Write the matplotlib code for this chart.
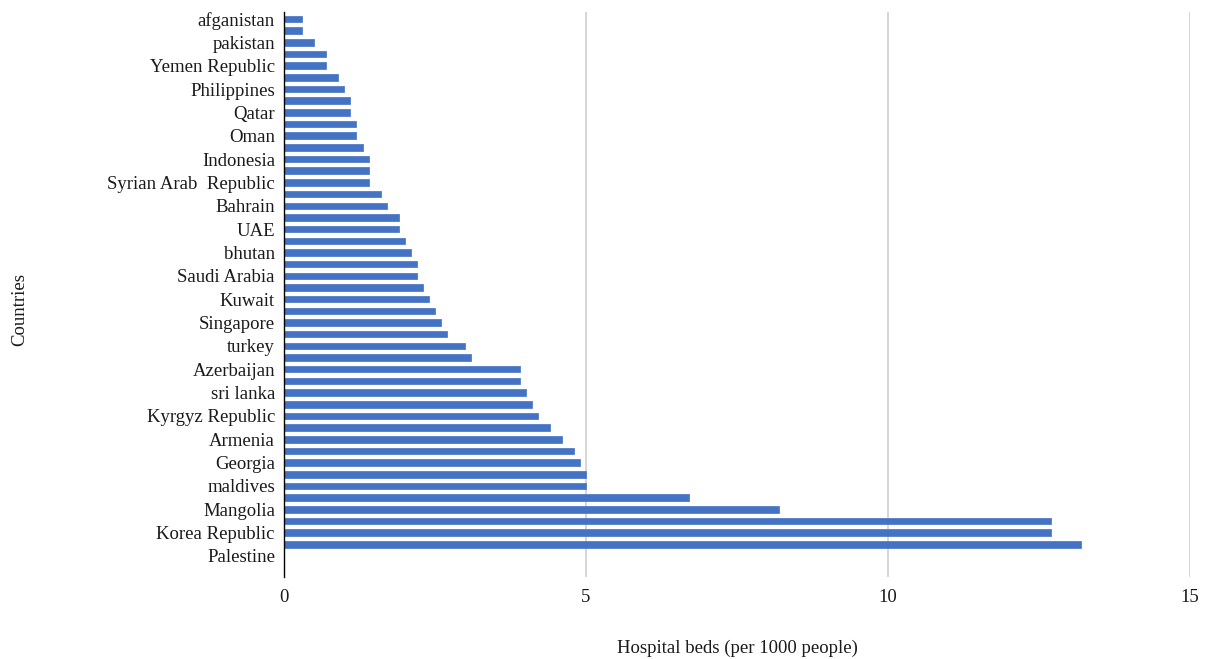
import numpy as np
import matplotlib
matplotlib.use("Agg")
import matplotlib.pyplot as plt

plt.rcParams['font.family'] = ['Liberation Serif', 'DejaVu Serif']

# country labels shown on the axis (every other category)
labels = ["afganistan", "pakistan", "Yemen Republic", "Philippines", "Qatar", "Oman",
          "Indonesia", "Syrian Arab  Republic", "Bahrain", "UAE", "bhutan", "Saudi Arabia",
          "Kuwait", "Singapore", "turkey", "Azerbaijan", "sri lanka", "Kyrgyz Republic",
          "Armenia", "Georgia", "maldives", "Mangolia", "Korea Republic", "Palestine"]

# hospital beds per 1000 people, one per bar (top to bottom)
beds = [0.3, 0.3, 0.5, 0.7, 0.7, 0.9, 1.0, 1.1, 1.1, 1.2, 1.2, 1.3,
        1.4, 1.4, 1.4, 1.6, 1.7, 1.9, 1.9, 2.0, 2.1, 2.2, 2.2, 2.3,
        2.4, 2.5, 2.6, 2.7, 3.0, 3.1, 3.9, 3.9, 4.0, 4.1, 4.2, 4.4,
        4.6, 4.8, 4.9, 5.0, 5.0, 6.7, 8.2, 12.7, 12.7, 13.2]

xticks = [0, 5, 10, 15]

W, H = 1205, 659
fig = plt.figure(figsize=(W / 100, H / 100), dpi=100)
ax = fig.add_axes([284 / W, 1 - 577 / H, (1190 - 284) / W, (577 - 12) / H])

ypos = np.arange(len(beds))
ax.barh(ypos, beds, height=0.56, color="#4472C4", edgecolor="#4472C4",
        linewidth=0.5, joinstyle="round", zorder=3)

n_cat = 2 * len(labels) - 1
ax.set_yticks(np.arange(0, n_cat, 2))
ax.set_yticklabels(labels)
ax.set_ylim(47.8, -0.6)

ax.set_xlim(0, 15)
ax.set_xticks(xticks)
ax.set_xticklabels([str(t) for t in xticks])

ax.grid(axis="x", color="#d0d0d0", linewidth=1.2, zorder=0)
ax.grid(axis="y", visible=False)
for side in ["top", "right", "bottom"]:
    ax.spines[side].set_visible(False)
ax.spines["left"].set_color("black")
ax.spines["left"].set_linewidth(1.0)
ax.spines["left"].set_zorder(4)

ax.tick_params(axis="y", length=0, pad=6.5, labelsize=13.5, colors="#1a1a1a")
ax.tick_params(axis="x", length=0, pad=9, labelsize=13.5, colors="#1a1a1a")

fig.text(737 / W, 1 - 648 / H, "Hospital beds (per 1000 people)", ha="center", va="center",
         fontsize=13.5, color="#1a1a1a")
fig.text(20 / W, 1 - 310 / H, "Countries", ha="center", va="center", rotation=90,
         fontsize=13.5, color="#1a1a1a")

fig.savefig("out.png", dpi=100)
